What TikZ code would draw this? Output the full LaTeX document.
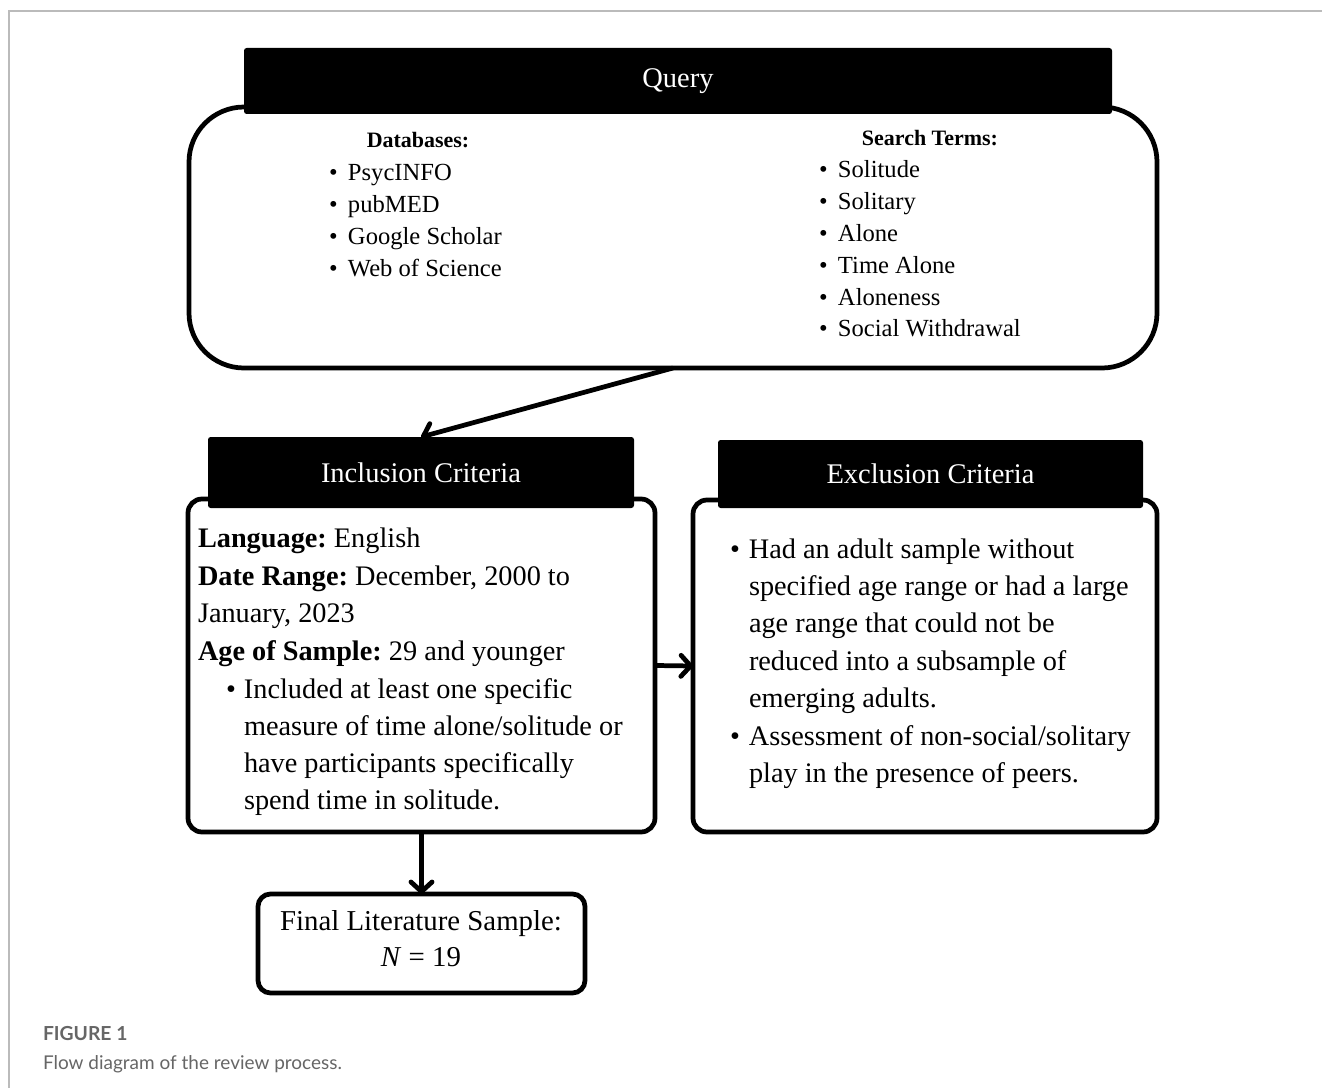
\documentclass[tikz,border=0pt]{standalone}
\usepackage{fontspec}
\setmainfont{Liberation Serif}
\newfontfamily\capfont{Lato}
\usetikzlibrary{positioning,fit,arrows.meta}
\definecolor{framegray}{HTML}{BBBBBB}
\definecolor{capgray}{HTML}{666666}
\newdimen\px \px=0.02cm

\begin{document}
\begin{tikzpicture}[x=0.02cm,y=-0.02cm,
	every node/.style={inner sep=0pt,outer sep=0pt},
	box/.style={draw,line width=2.7pt,rounded corners=0.28cm,fit={#1}},
	head/.style={fill=black,rounded corners=1.5pt,fit={#1}},
	headtext/.style={text=white,font=\fontsize{16.2}{19}\selectfont},
	body/.style={anchor=base west,font=\fontsize{16.1}{19}\selectfont},
	term/.style={anchor=base west,font=\fontsize{14}{16}\selectfont},
	termhead/.style={anchor=base,font=\fontsize{12.5}{15}\selectfont\bfseries},
	arr/.style={line width=2.7pt,-{Straight Barb[length=5.5pt,width=12pt,round]}}]
\useasboundingbox (0,0) rectangle (1322,1088);
% 			frame of the figure
\draw[framegray,line width=0.8pt] (1322,11) -- (9,11) -- (9,1088);

% 			boxes
\node[box={(189,107) (1157,368)},rounded corners=1.1cm] (query) {};
\node[box={(188,499) (655,832)}] (incl) {};
\node[box={(693,500) (1157,832)}] (excl) {};
\node[box={(258,894) (585,993)},rounded corners=0.25cm] (final) {};

\node[head={(244,48) (1112,114)},label={[headtext]center:Query}] (queryhead) {};
\node[head={(208,437) (634,508)},label={[headtext]center:Inclusion Criteria}] (inclhead) {};
\node[head={(718,440) (1143,508)},label={[headtext]center:Exclusion Criteria}] (exclhead) {};

% 			query
\node[termhead] (dbhead) at (418,148) {Databases:};
\foreach \t [count=\k] in {PsycINFO,pubMED,Google Scholar,Web of Science}
	\node[term] (db\k) at (329,148+32*\k) {\makebox[19\px][l]{\textbullet}\t};
\node[termhead] (sthead) at (930,146) {Search Terms:};
\foreach \t [count=\k] in {Solitude,Solitary,Alone,Time Alone,Aloneness,Social Withdrawal}
	\node[term] (st\k) at (819,146+31.8*\k) {\makebox[19\px][l]{\textbullet}\t};

% 			inclusion
\node[body] (lang) at (198,547) {\textbf{Language:}~English};
\node[body] (date) at (198,585) {\textbf{Date Range:}~December, 2000 to};
\node[body] (date2) at (198,622) {January, 2023};
\node[body] (age) at (198,660) {\textbf{Age of Sample:}~29 and younger};
\node[body] (inc1) at (226,698) {\makebox[18\px][l]{\textbullet}Included at least one specific};
\node[body] (inc2) at (244,735) {measure of time alone/solitude or};
\node[body] (inc3) at (244,772) {have participants specifically};
\node[body] (inc4) at (244,809) {spend time in solitude.};

% 			exclusion
\node[body] (exc1) at (730,558) {\makebox[19\px][l]{\textbullet}Had an adult sample without};
\node[body] (exc2) at (749,595) {specified age range or had a large};
\node[body] (exc3) at (749,632) {age range that could not be};
\node[body] (exc4) at (749,670) {reduced into a subsample of};
\node[body] (exc5) at (749,707) {emerging adults.};
\node[body] (exc6) at (730,745) {\makebox[19\px][l]{\textbullet}Assessment of non-social/solitary};
\node[body] (exc7) at (749,782) {play in the presence of peers.};

% 			final sample
\node[anchor=base,font=\fontsize{16.4}{18}\selectfont] (fin1) at (421,930) {Final Literature Sample:};
\node[anchor=base,font=\fontsize{16.4}{18}\selectfont] (fin2) at (421,966) {\textit{N} = 19};

% 			arrows
\draw[arr] (query.south) -- (inclhead.north);
\draw[arr] (incl.east) -- (excl.west);
\draw[arr] (incl.south) -- (final.north);

% 			caption
\node[anchor=base west,font=\capfont\fontsize{11}{13}\selectfont\bfseries,text=capgray] (figno) at (43,1040) {FIGURE 1};
\node[anchor=base west,font=\capfont\fontsize{10.8}{13}\selectfont,text=capgray] (figcap) at (43,1069) {Flow diagram of the review process.};
\end{tikzpicture}
\end{document}
